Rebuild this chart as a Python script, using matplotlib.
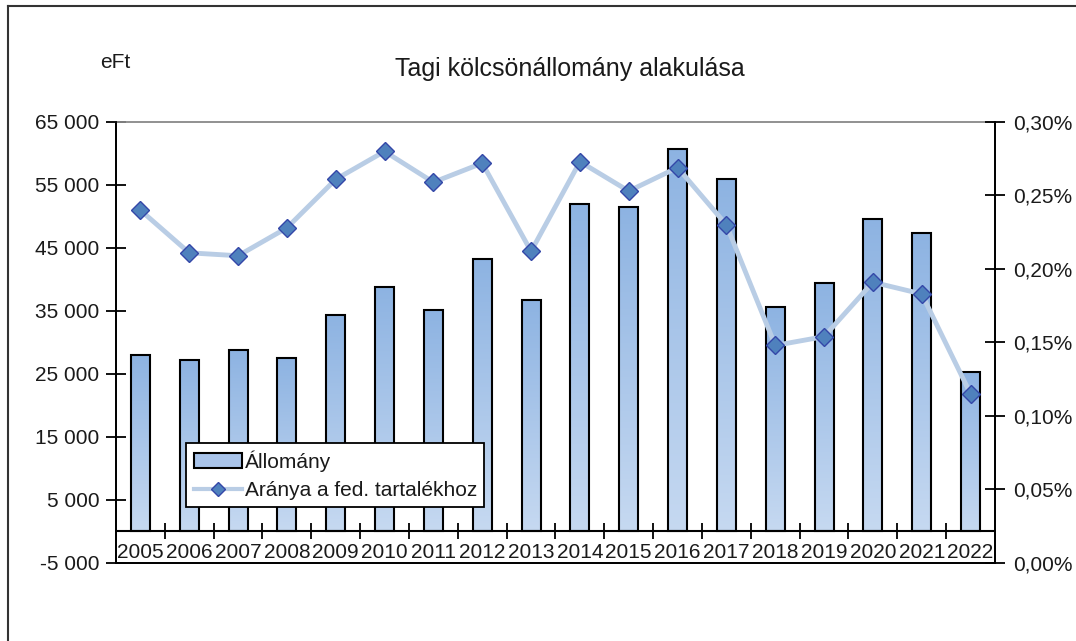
import numpy as np
import matplotlib
matplotlib.use("Agg")
import matplotlib.pyplot as plt
from matplotlib.colors import LinearSegmentedColormap
from matplotlib.lines import Line2D
from matplotlib.patches import Patch
from matplotlib.ticker import FuncFormatter

plt.rcParams['font.family'] = ['Liberation Sans', 'DejaVu Sans']

years = [str(y) for y in range(2005, 2023)]
# Állomány, eFt
allomany = [28000, 27200, 28800, 27500, 34300, 38800, 35100, 43200, 36700,
            52000, 51500, 60700, 55900, 35700, 39400, 49600, 47300, 25300]
# Aránya a fed. tartalékhoz, %
arany = [0.240, 0.211, 0.209, 0.228, 0.261, 0.280, 0.259, 0.272, 0.212,
         0.273, 0.253, 0.269, 0.230, 0.148, 0.154, 0.191, 0.183, 0.115]

left_ticks = list(range(-5000, 65001, 10000))
right_ticks = [0.00, 0.05, 0.10, 0.15, 0.20, 0.25, 0.30]

txt = '#1a1a1a'
fs = 15

fig = plt.figure(figsize=(10.76, 6.41), dpi=100)
ax = fig.add_axes([0.1078, 0.1217, 0.8169, 0.688])
ax2 = ax.twinx()

x = np.arange(len(years))
bw = 0.39
cmap = LinearSegmentedColormap.from_list('grad', ['#c6d9f1', '#8db3e2'])
grad = np.linspace(0, 1, 256).reshape(-1, 1)
bars = ax.bar(x, allomany, width=bw, facecolor='none', edgecolor='black',
              linewidth=1.5, zorder=3)
for b in bars:
    x0, w, h = b.get_x(), b.get_width(), b.get_height()
    im = ax.imshow(grad, cmap=cmap, origin='lower', aspect='auto',
                   extent=[x0, x0 + w, 0, h], zorder=2)
    im.set_clip_path(b)

ax.axhline(0, color='black', lw=1.5, zorder=4)
# category separators on the zero line
ax.plot(x[:-1] + 0.5, np.zeros(len(x) - 1), ls='none', marker='|',
        markersize=12, markeredgewidth=1.3, color='black', zorder=4)

ax.set_xlim(-0.5, len(years) - 0.5)
ax.set_ylim(-5000, 65000)
ax.set_yticks(left_ticks)
ax.yaxis.set_major_formatter(FuncFormatter(lambda v, p: f'{int(v):,}'.replace(',', ' ')))
ax.tick_params(axis='y', direction='inout', length=14, width=1.3,
               labelsize=fs, labelcolor=txt, pad=5)
ax.set_xticks([])
for i, yr in enumerate(years):
    ax.text(i, -3300, yr, ha='center', va='center', fontsize=fs, color=txt)

for side in ['left', 'bottom', 'right']:
    ax.spines[side].set_color('black')
    ax.spines[side].set_linewidth(1.3)
ax.spines['top'].set_color('#888888')
ax.spines['top'].set_linewidth(1.3)

ax2.plot(x, arany, color='#b9cde5', lw=3.5, marker='D', markersize=9,
         markerfacecolor='#4f81bd', markeredgecolor='#3447a8',
         markeredgewidth=1, zorder=5)
ax2.set_ylim(0, 0.30)
ax2.set_yticks(right_ticks)
ax2.yaxis.set_major_formatter(FuncFormatter(lambda v, p: f'{v:.2f}%'.replace('.', ',')))
ax2.tick_params(axis='y', direction='inout', length=14, width=1.3,
                labelsize=fs, labelcolor=txt, pad=6)
for side in ['left', 'bottom', 'right']:
    ax2.spines[side].set_color('black')
    ax2.spines[side].set_linewidth(1.3)
ax2.spines['top'].set_visible(False)

handles = [Patch(facecolor='#a9c4ea', edgecolor='black', linewidth=1.5),
           Line2D([], [], color='#b9cde5', lw=3, marker='D', markersize=7,
                  markerfacecolor='#4f81bd', markeredgecolor='#3447a8')]
leg = ax2.legend(handles, ['Állomány', 'Aránya a fed. tartalékhoz'],
                 loc='upper left', bbox_to_anchor=(0.08, 0.272),
                 fontsize=fs, frameon=True, fancybox=False, framealpha=1,
                 edgecolor='black', handlelength=2.3, handletextpad=0.15,
                 labelspacing=0.45, borderpad=0.35, borderaxespad=0)
leg.get_frame().set_linewidth(1.3)
for t in leg.get_texts():
    t.set_color(txt)

fig.text(0.53, 0.892, 'Tagi kölcsönállomány alakulása', ha='center',
         va='center', fontsize=18, color=txt)
fig.text(0.093, 0.903, 'eFt', ha='left', va='center', fontsize=fs, color=txt)

# outer chart frame
fig.add_artist(Line2D([8 / 1076, 8 / 1076], [0, 1 - 6 / 641],
                      transform=fig.transFigure, color='#333333', lw=1.5))
fig.add_artist(Line2D([8 / 1076, 1], [1 - 6 / 641, 1 - 6 / 641],
                      transform=fig.transFigure, color='#333333', lw=1.5))

fig.savefig('out.png', dpi=100)
